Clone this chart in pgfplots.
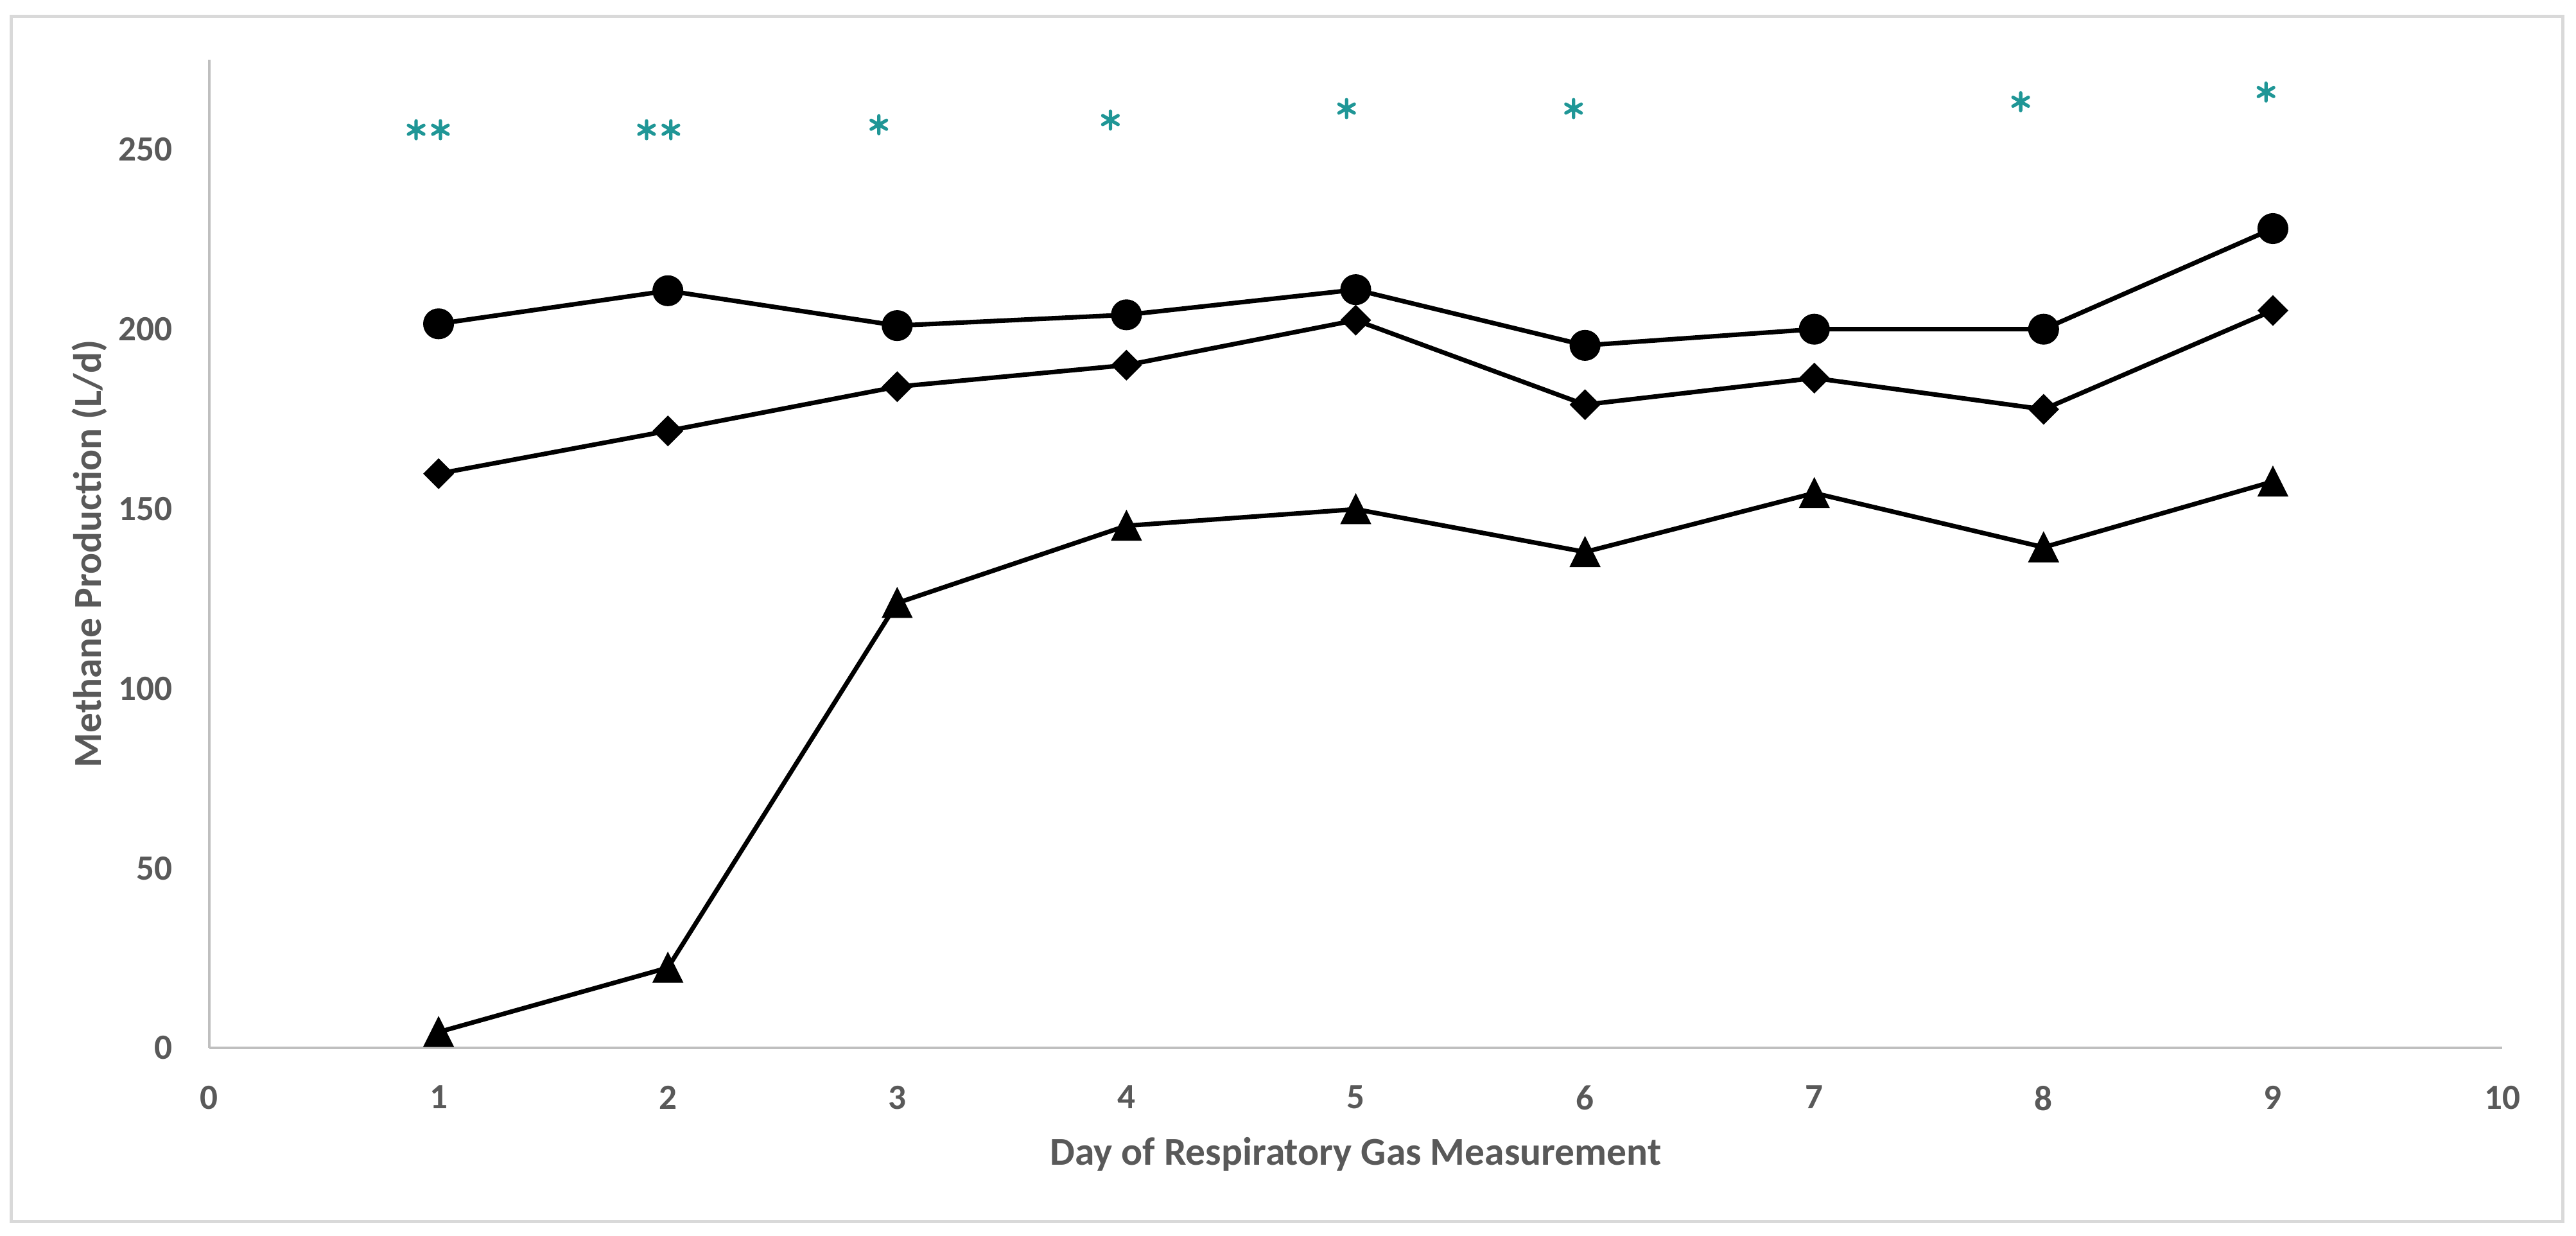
\documentclass[border=0pt]{standalone}
\usepackage{pgfplots}
\pgfplotsset{compat=1.18}
\usepackage{fontspec}
\setmainfont{Carlito}
\definecolor{axgray}{HTML}{BFBFBF}
\definecolor{framegray}{HTML}{D9D9D9}
\definecolor{labgray}{HTML}{595959}
\definecolor{startl}{HTML}{1F9696}

% Excel-style triangle: base as wide as it is high
\pgfdeclareplotmark{xltri}{%
  \pgfpathmoveto{\pgfqpoint{0pt}{\pgfplotmarksize}}%
  \pgfpathlineto{\pgfqpoint{-\pgfplotmarksize}{-\pgfplotmarksize}}%
  \pgfpathlineto{\pgfqpoint{\pgfplotmarksize}{-\pgfplotmarksize}}%
  \pgfpathclose
  \pgfusepathqfillstroke}

\begin{document}
\begin{tikzpicture}
  % page extent and outer chart frame
  \path[use as bounding box] (-46.09pt,-41.29pt) rectangle (521.16pt,230.75pt);
  \draw[framegray, line width=0.7pt] (-43.55pt,-38.3pt) rectangle (518.3pt,227.2pt);
  \begin{axis}[
    scale only axis,
    width=504.9pt,
    height=217.6pt,
    xmin=0, xmax=10,
    ymin=0, ymax=275,
    xtick={0,1,...,10},
    ytick={0,50,...,250},
    axis x line*=bottom,
    axis y line*=left,
    x axis line style={draw=axgray, line width=0.6pt, -},
    y axis line style={draw=axgray, line width=0.5pt, -},
    major tick length=0pt,
    tick style={draw=none},
    /pgf/number format/assume math mode=true,
    ticklabel style={font=\fontsize{7.8}{9}\selectfont\bfseries, text=labgray},
    yticklabel style={xshift=-4.6pt},
    xticklabel style={yshift=-4.8pt},
    xlabel={Day of Respiratory Gas Measurement},
    ylabel={Methane Production (L/d)},
    label style={font=\fontsize{8.7}{10}\selectfont\bfseries, text=labgray},
    xlabel style={at={(axis description cs:0.5,-0.108)}, anchor=center},
    ylabel style={at={(axis description cs:-0.0523,0.5)}, anchor=center},
    clip=false,
  ]
    % circles
    \addplot[black, line width=1pt, mark=*, mark size=3.2pt,
      mark options={solid, fill=black, line width=0.4pt}] coordinates {
      (1,201.5) (2,210.7) (3,201) (4,204) (5,211) (6,195.5) (7,200) (8,200) (9,228)
    };
    % diamonds
    \addplot[black, line width=1pt, mark=square*, mark size=2.2pt,
      mark options={solid, fill=black, line width=0.4pt, rotate=45}] coordinates {
      (1,159.8) (2,171.7) (3,184) (4,190) (5,202.5) (6,179) (7,186.4) (8,177.7) (9,205.2)
    };
    % triangles
    \addplot[black, line width=1pt, mark=xltri, mark size=3.1pt,
      mark options={solid, fill=black, line width=0.4pt}] coordinates {
      (1,4.4) (2,22.3) (3,123.8) (4,145.3) (5,149.9) (6,138) (7,154.4) (8,139.3) (9,157.6)
    };
    % significance asterisks (one mark per asterisk)
    \addplot[only marks, startl, mark=asterisk, mark size=1.95pt,
      mark options={line width=0.75pt, line cap=round}] coordinates {
      (0.902,255.5) (1.008,255.5)
      (1.907,255.5) (2.013,255.5)
      (2.92,256.9) (3.93,258.2) (4.96,261.4) (5.95,261.4)
      (7.90,263.3) (8.97,266)
    };
  \end{axis}
\end{tikzpicture}
\end{document}
